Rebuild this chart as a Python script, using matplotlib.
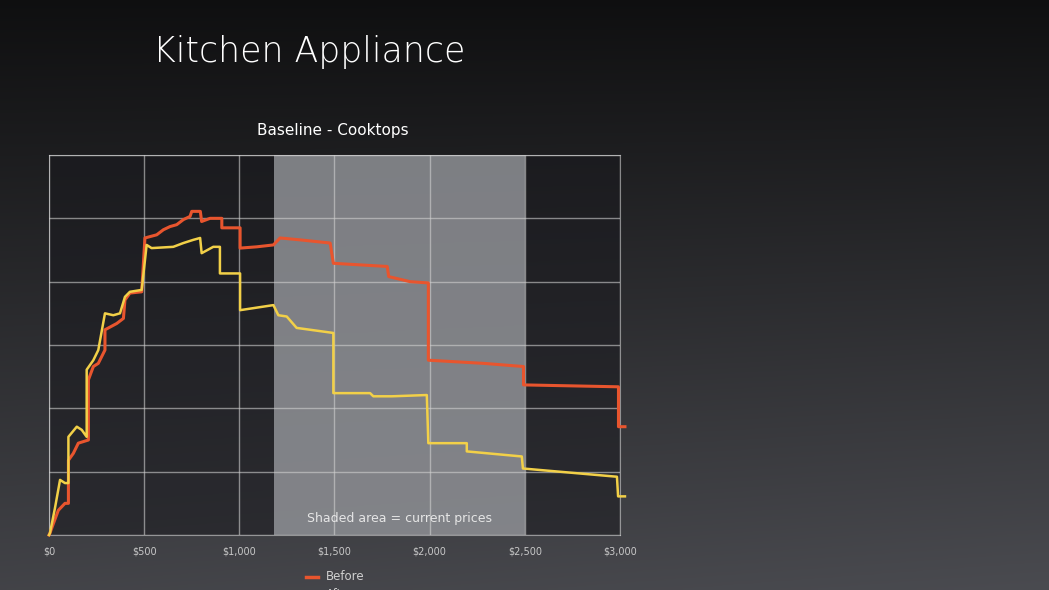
import matplotlib
matplotlib.use("Agg")
import matplotlib.pyplot as plt
import numpy as np

before_x = [0, 5, 23, 49, 84, 102, 102, 128, 154, 207, 207, 233, 259, 294, 294, 356, 391, 399, 425, 487, 504, 566, 601, 636, 671, 706, 741, 750, 795, 802, 846, 908, 908, 1004, 1004, 1091, 1179, 1214, 1319, 1477, 1494, 1777, 1785, 1897, 1993, 1993, 2283, 2493, 2493, 2992, 2992, 3026]
before_y = [0.0, 0.03, 0.18, 0.39, 0.50, 0.50, 1.18, 1.29, 1.45, 1.50, 2.45, 2.66, 2.71, 2.92, 3.24, 3.34, 3.42, 3.71, 3.82, 3.84, 4.69, 4.74, 4.82, 4.87, 4.90, 4.98, 5.03, 5.11, 5.11, 4.95, 5.00, 5.00, 4.85, 4.85, 4.53, 4.55, 4.58, 4.69, 4.66, 4.61, 4.29, 4.24, 4.08, 4.00, 3.98, 2.76, 2.71, 2.66, 2.37, 2.34, 1.71, 1.71]
after_x = [0, 5, 31, 58, 84, 102, 102, 146, 172, 198, 198, 233, 259, 294, 338, 373, 399, 425, 487, 513, 539, 653, 706, 758, 794, 802, 863, 898, 898, 1004, 1004, 1179, 1205, 1249, 1301, 1494, 1494, 1687, 1704, 1801, 1985, 1993, 2195, 2195, 2484, 2490, 2984, 2990, 3026]
after_y = [0.0, 0.03, 0.42, 0.87, 0.82, 0.82, 1.55, 1.71, 1.66, 1.55, 2.61, 2.76, 2.92, 3.50, 3.47, 3.50, 3.76, 3.84, 3.87, 4.58, 4.53, 4.55, 4.61, 4.66, 4.69, 4.45, 4.55, 4.55, 4.13, 4.13, 3.55, 3.63, 3.47, 3.45, 3.27, 3.19, 2.24, 2.24, 2.19, 2.19, 2.21, 1.45, 1.45, 1.32, 1.24, 1.05, 0.92, 0.61, 0.61]
xticks = [0, 500, 1000, 1500, 2000, 2500, 3000]
xtick_labels = ["$0", "$500", "$1,000", "$1,500", "$2,000", "$2,500", "$3,000"]
shade_range = (1182, 2500)

fig = plt.figure(figsize=(10.49, 5.9), dpi=100)
bg = fig.add_axes([0, 0, 1, 1], zorder=-10)
gy = np.linspace(0, 1, 200)[:, None]
gx = np.linspace(0, 1, 300)[None, :]
grad = 0.06 + 0.20 * gy + 0.03 * gx * gy
bg.imshow(np.dstack([grad, grad * 1.01, grad * 1.08]).clip(0, 1), aspect="auto", extent=[0, 1, 0, 1], origin="upper")
bg.axis("off")

ax = fig.add_axes([49/1049, 55/590, 571/1049, 380/590])
ax.set_facecolor((0.1, 0.1, 0.12, 0.55))
ax.axvspan(*shade_range, color="#a4a6ab", alpha=0.72, zorder=0, lw=0)
ax.set_xlim(0, 3000)
ax.set_ylim(0, 6)
ax.set_xticks(xticks)
ax.set_xticklabels(xtick_labels, color="#c8c8c8", fontsize=7)
ax.set_yticks(range(7))
ax.set_yticklabels([])
ax.tick_params(length=0, pad=8)
ax.grid(True, color="#d0d0d0", lw=1, alpha=0.6)
for s in ax.spines.values():
    s.set_color("#d0d0d0"); s.set_alpha(0.6)
ax.plot(before_x, before_y, color="#e8552e", lw=2.2, label="Before", clip_on=False, zorder=3)
ax.plot(after_x, after_y, color="#f2d048", lw=1.8, label="After", clip_on=False, zorder=3)
ax.text(1841, 0.2, "Shaded area = current prices", ha="center", color="#e6e6e6", fontsize=9)

fig.text(153/1049, 1 - 52/590, "Kitchen Appliance", color="white", fontsize=25, va="center", fontweight="light")
fig.text(333/1049, 1 - 131/590, "Baseline - Cooktops", color="white", fontsize=11, ha="center", va="center")
fig.lines.append(plt.Line2D([306/1049, 318/1049], [1 - 577/590] * 2, color="#e8552e", lw=2.5, transform=fig.transFigure))
fig.text(326/1049, 1 - 577/590, "Before", color="#d0d0d0", fontsize=8.5, va="center")
fig.text(326/1049, 1 - 588/590, "After", color="#d0d0d0", fontsize=8.5, va="top")
fig.savefig("out.png", dpi=100)
